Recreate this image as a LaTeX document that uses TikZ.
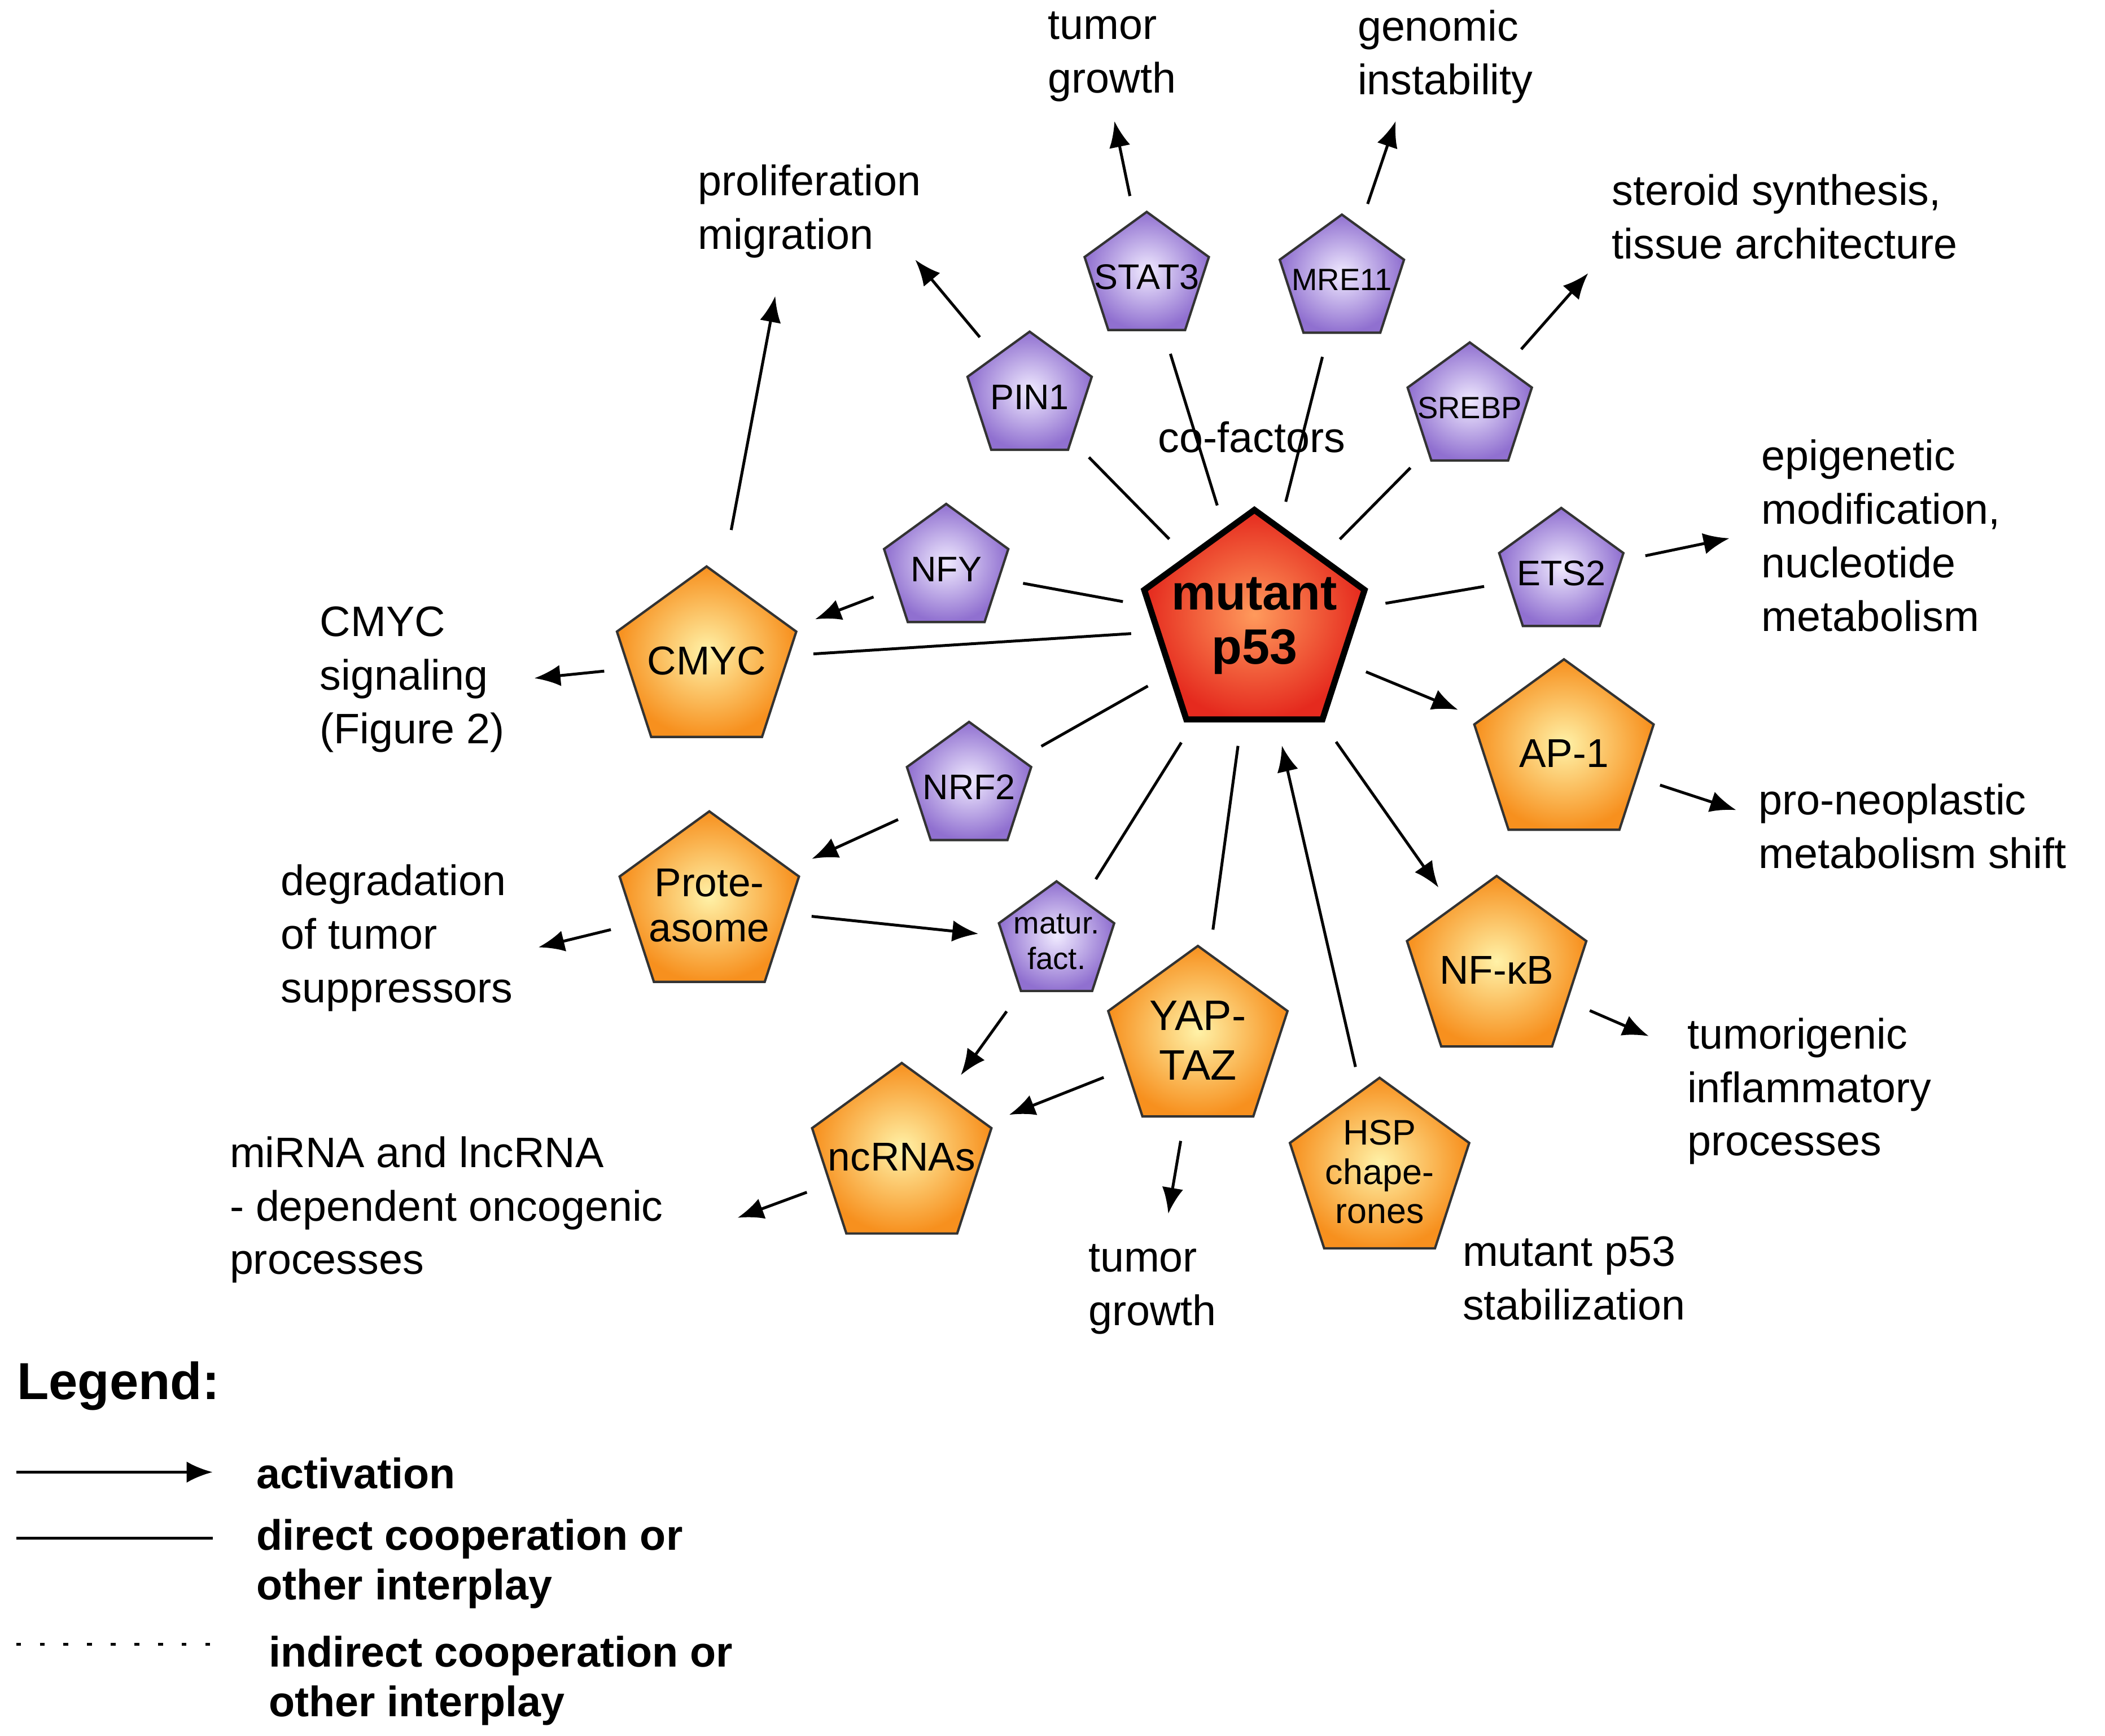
\documentclass[tikz,border=0pt]{standalone}
\usepackage{fontspec}
\setmainfont{Liberation Sans}
\usetikzlibrary{arrows.meta,shapes.geometric}
\definecolor{lila}{HTML}{9070D0}
\definecolor{lilain}{HTML}{F0EAFF}
\definecolor{oran}{HTML}{F7901E}
\definecolor{oranin}{HTML}{FFF2A8}
\definecolor{redout}{HTML}{E52A1E}
\definecolor{redin}{HTML}{FF9A5C}
\begin{document}
\begin{tikzpicture}[x=0.01cm,y=-0.01cm,
  penta/.style={regular polygon, regular polygon sides=5, inner sep=-12pt, draw=black!80, line width=0.5pt, align=center},
  cof/.style={penta, minimum size=0.97cm, shading=radial, inner color=lilain, outer color=lila, font=\fontsize{7.5}{8.5}\selectfont},
  eff/.style={penta, minimum size=1.40cm, shading=radial, inner color=oranin, outer color=oran, font=\fontsize{8.5}{9.5}\selectfont},
  lbl/.style={anchor=west, align=left, inner sep=0pt, font=\fontsize{9}{11.3}\selectfont},
  link/.style={line width=0.6pt, shorten <=5pt, shorten >=5pt},
  act/.style={link, -{Latex[length=5.5pt,width=4.5pt]}},
  res/.style={act, shorten >=0pt},
  leg/.style={anchor=west, align=left, inner sep=0pt, font=\bfseries\fontsize{9}{10.5}\selectfont}]

\useasboundingbox (0,0) rectangle (1564,1290);

% CENTRE
\node[penta, minimum size=1.72cm, shading=radial, inner color=redin, outer color=redout, draw=black, line width=1.3pt, font=\bfseries\fontsize{10.5}{11.5}\selectfont] (p53) at (932,465) {mutant\\p53};

% CO-FACTORS
\node[cof] (stat) at (852,206) {STAT3};
\node[cof, font=\fontsize{6.5}{7.5}\selectfont] (mre) at (997,208) {MRE11};
\node[cof] (pin) at (765,295) {PIN1};
\node[cof, font=\fontsize{6.5}{7.5}\selectfont] (srebp) at (1092,303) {SREBP};
\node[cof] (nfy) at (703,423) {NFY};
\node[cof] (ets) at (1160,426) {ETS2};
\node[cof] (nrf) at (720,585) {NRF2};
\node[cof, minimum size=0.90cm, font=\fontsize{6.5}{7.5}\selectfont] (mat) at (785,700) {matur.\\fact.};
\node[font=\fontsize{9}{11}\selectfont] (cof) at (930,325) {co-factors};

% EFFECTORS
\node[eff] (cmyc) at (525,491) {CMYC};
\node[eff] (ap) at (1162,560) {AP-1};
\node[eff] (prot) at (527,673) {Prote-\\asome};
\node[eff] (nfkb) at (1112,721) {NF-κB};
\node[eff, font=\fontsize{9}{10.5}\selectfont] (yap) at (890,773) {YAP-\\TAZ};
\node[eff] (nc) at (670,860) {ncRNAs};
\node[eff, font=\fontsize{7.5}{8.3}\selectfont] (hsp) at (1025,871) {HSP\\chape-\\rones};

% OUTCOMES
\node[lbl] (tg1) at (778,42) {tumor\\growth};
\node[lbl] (gen) at (1008,42) {genomic\\instability};
\node[lbl] (pro) at (518,157) {proliferation\\migration};
\node[lbl] (ste) at (1197,161) {steroid synthesis,\\tissue architecture};
\node[lbl] (epi) at (1308,398) {epigenetic\\modification,\\nucleotide\\metabolism};
\node[lbl] (sig) at (237,505) {CMYC\\signaling\\(Figure 2)};
\node[lbl] (neo) at (1306,614) {pro-neoplastic\\metabolism shift};
\node[lbl] (deg) at (208,697) {degradation\\of tumor\\suppressors};
\node[lbl] (inf) at (1253,811) {tumorigenic\\inflammatory\\processes};
\node[lbl] (mir) at (170,899) {miRNA and lncRNA\\- dependent oncogenic\\processes};
\node[lbl] (tg2) at (808,958) {tumor\\growth};
\node[lbl] (stab) at (1086,950) {mutant p53\\stabilization};

\coordinate (tg1a) at (828,90);
\coordinate (gena) at (1037,90);
\coordinate (proa) at (680,193);
\coordinate (proc) at (576,220);
\coordinate (stea) at (1180,203);
\coordinate (epia) at (1285,400);
\coordinate (siga) at (397,504);
\coordinate (neoa) at (1290,602);
\coordinate (dega) at (400,704);
\coordinate (infa) at (1225,770);
\coordinate (mira) at (548,905);
\coordinate (tg2a) at (868,902);

% INTERPLAY
\foreach \n in {stat,mre,pin,srebp,nfy,ets,cmyc,nrf,mat,yap}
  \draw[link] (p53) -- (\n);
\draw[act] (p53) -- (ap);
\draw[act] (p53) -- (nfkb);
\draw[act] (hsp) -- (p53);
\draw[act] (nfy) -- (cmyc);
\draw[act] (nrf) -- (prot);
\draw[act] (prot) -- (mat);
\draw[act] (mat) -- (nc);
\draw[act] (yap) -- (nc);

% OUTPUT ARROWS
\draw[res] (stat) -- (tg1a);
\draw[res] (mre) -- (gena);
\draw[res] (pin) -- (proa);
\draw[res, shorten <=10pt] (cmyc) -- (proc);
\draw[res] (srebp) -- (stea);
\draw[res] (ets) -- (epia);
\draw[res] (cmyc) -- (siga);
\draw[res] (ap) -- (neoa);
\draw[res] (prot) -- (dega);
\draw[res] (nfkb) -- (infa);
\draw[res] (nc) -- (mira);
\draw[res] (yap) -- (tg2a);

% LEGEND
\node[anchor=west, inner sep=0pt, font=\bfseries\fontsize{11}{13}\selectfont] (legend) at (12,1030) {Legend:};
\coordinate (la1) at (12,1094); \coordinate (la2) at (158,1094);
\coordinate (lb1) at (12,1143); \coordinate (lb2) at (158,1143);
\coordinate (lc1) at (12,1222); \coordinate (lc2) at (158,1222);
\draw[line width=0.6pt, -{Latex[length=5.5pt,width=4.5pt]}] (la1) -- (la2);
\draw[line width=0.6pt] (lb1) -- (lb2);
\draw[line width=0.6pt, dash pattern=on 1pt off 4pt] (lc1) -- (lc2);
\node[leg] (lacts) at (190,1095) {activation};
\node[leg] (ldir) at (190,1162) {direct cooperation or\\other interplay};
\node[leg] (lind) at (199,1249) {indirect cooperation or\\other interplay};
\end{tikzpicture}
\end{document}
